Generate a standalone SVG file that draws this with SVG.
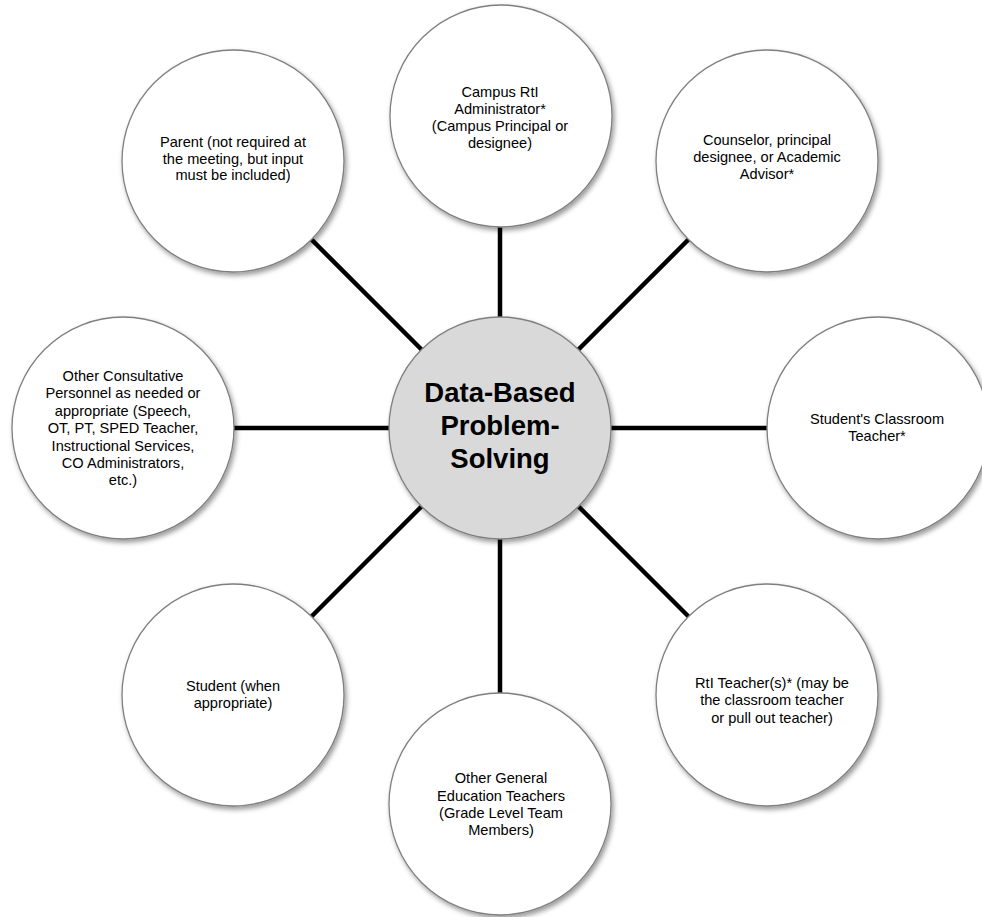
<svg xmlns="http://www.w3.org/2000/svg" width="982" height="917" viewBox="0 0 982 917">
<defs>
<filter id="sh" x="-20%" y="-20%" width="140%" height="140%">
<feDropShadow dx="2" dy="3" stdDeviation="2.5" flood-color="#000" flood-opacity="0.4"/>
</filter>
</defs>
<style>
.c{fill:#fff;stroke:#7f7f7f;stroke-width:1.3;filter:url(#sh)}
.hub{fill:#d9d9d9;stroke:#7f7f7f;stroke-width:1.3;filter:url(#sh)}
.t{font-family:"Liberation Sans",Arial,sans-serif;font-size:14.6px;fill:#000;text-anchor:middle}
.ht{font-family:"Liberation Sans",Arial,sans-serif;font-size:27.5px;font-weight:bold;fill:#000;text-anchor:middle}
.l{stroke:#000;stroke-width:4.5;fill:none}
</style>
<rect width="982" height="917" fill="#fff"/>
<g id="connectors">
<line class="l" x1="500" y1="317" x2="500" y2="227"/>
<line class="l" x1="421.5" y1="349.5" x2="311.5" y2="239.5"/>
<line class="l" x1="578.5" y1="349.5" x2="688.5" y2="239.5"/>
<line class="l" x1="389" y1="428" x2="234" y2="428"/>
<line class="l" x1="611" y1="428" x2="767" y2="428"/>
<line class="l" x1="421.5" y1="506.5" x2="311.5" y2="616.5"/>
<line class="l" x1="578.5" y1="506.5" x2="688.5" y2="616.5"/>
<line class="l" x1="500" y1="539" x2="500" y2="693"/>
</g>
<g id="campus-admin">
<circle class="c" cx="501" cy="116" r="111"/>
<text class="t" x="500"><tspan x="500" y="97">Campus RtI</tspan><tspan x="500" y="114">Administrator*</tspan><tspan x="500" y="131">(Campus Principal or</tspan><tspan x="500" y="148">designee)</tspan></text>
</g>
<g id="parent">
<circle class="c" cx="233" cy="161" r="111"/>
<text class="t"><tspan x="233" y="147">Parent (not required at</tspan><tspan x="233" y="164">the meeting, but input</tspan><tspan x="233" y="180">must be included)</tspan></text>
</g>
<g id="counselor">
<circle class="c" cx="767" cy="161" r="111"/>
<text class="t"><tspan x="767" y="145">Counselor, principal</tspan><tspan x="767" y="162">designee, or Academic</tspan><tspan x="767" y="179">Advisor*</tspan></text>
</g>
<g id="consultative">
<circle class="c" cx="123" cy="428" r="111"/>
<text class="t"><tspan x="123" y="381">Other Consultative</tspan><tspan x="123" y="398">Personnel as needed or</tspan><tspan x="123" y="416">appropriate (Speech,</tspan><tspan x="123" y="433">OT, PT, SPED Teacher,</tspan><tspan x="123" y="451">Instructional Services,</tspan><tspan x="123" y="468">CO Administrators,</tspan><tspan x="123" y="485">etc.)</tspan></text>
</g>
<g id="classroom-teacher">
<circle class="c" cx="878" cy="428" r="111"/>
<text class="t"><tspan x="877" y="424">Student's Classroom</tspan><tspan x="877" y="441">Teacher*</tspan></text>
</g>
<g id="student">
<circle class="c" cx="233" cy="695" r="111"/>
<text class="t"><tspan x="233" y="691">Student (when</tspan><tspan x="233" y="708">appropriate)</tspan></text>
</g>
<g id="gen-ed">
<circle class="c" cx="500" cy="804" r="111"/>
<text class="t"><tspan x="501" y="783">Other General</tspan><tspan x="501" y="801">Education Teachers</tspan><tspan x="501" y="818">(Grade Level Team</tspan><tspan x="501" y="835">Members)</tspan></text>
</g>
<g id="rti-teacher">
<circle class="c" cx="767" cy="695" r="111"/>
<text class="t"><tspan x="772" y="688">RtI Teacher(s)* (may be</tspan><tspan x="772" y="705">the classroom teacher</tspan><tspan x="772" y="723">or pull out teacher)</tspan></text>
</g>
<g id="hub">
<circle class="hub" cx="500" cy="428" r="111"/>
<text class="ht"><tspan x="500" y="402">Data-Based</tspan><tspan x="500" y="435">Problem-</tspan><tspan x="500" y="468">Solving</tspan></text>
</g>
</svg>
